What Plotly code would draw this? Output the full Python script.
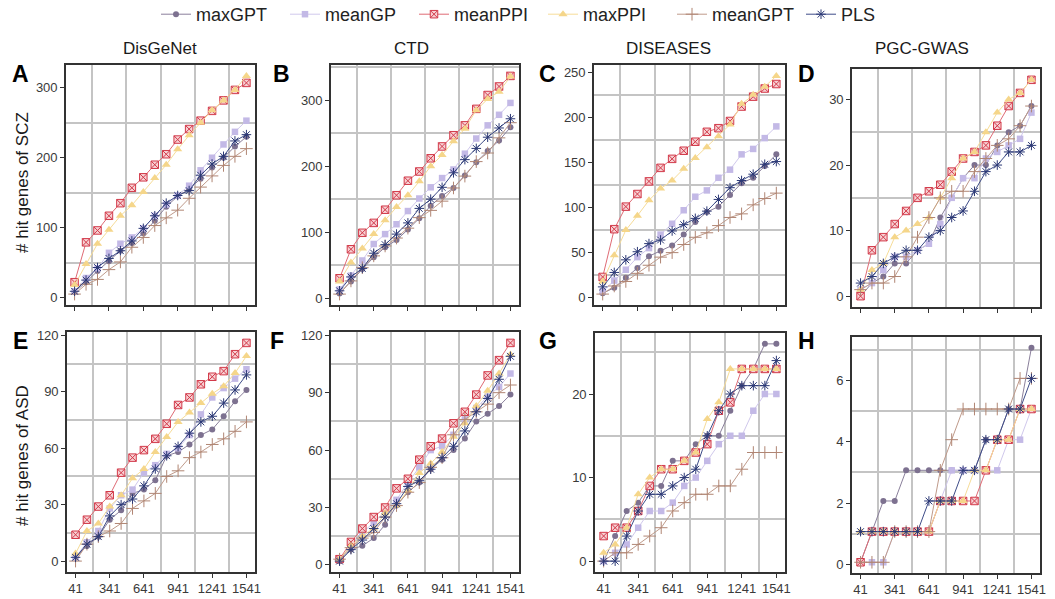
import plotly.graph_objects as go

# ---------------- data ----------------
X_POS = [41, 141, 241, 341, 441, 541, 641, 741, 841, 941, 1041, 1141, 1241, 1341, 1441, 1541]
X_TICKS = [41, 341, 641, 941, 1241, 1541]
METHODS = ["maxGPT", "meanGP", "meanPPI", "maxPPI", "meanGPT", "PLS"]
COLUMN_TITLES = ["DisGeNet", "CTD", "DISEASES", "PGC-GWAS"]
ROW_TITLES = ["# hit genes of SCZ", "# hit genes of ASD"]
PANEL_LETTERS = ["A", "B", "C", "D", "E", "F", "G", "H"]
Y_DTICK = [100, 100, 50, 10, 30, 30, 10, 2]

# A: SCZ / DisGeNet
A_maxGPT = [8, 22, 38, 52, 67, 78, 92, 110, 130, 145, 155, 170, 186, 200, 216, 230]
A_meanGP = [9, 28, 42, 64, 77, 86, 99, 117, 133, 146, 160, 182, 200, 219, 237, 253]
A_meanPPI = [22, 79, 96, 117, 135, 157, 172, 190, 205, 226, 241, 253, 267, 282, 297, 307]
A_maxPPI = [18, 48, 77, 97, 117, 132, 151, 171, 190, 212, 232, 250, 268, 282, 297, 317]
A_meanGPT = [5, 19, 26, 40, 51, 72, 86, 103, 114, 125, 142, 158, 174, 189, 202, 213]
A_PLS = [9, 25, 43, 56, 67, 81, 99, 117, 135, 146, 153, 175, 191, 202, 224, 233]

# B: SCZ / CTD
B_maxGPT = [7, 25, 44, 62, 77, 88, 104, 121, 140, 155, 167, 186, 206, 223, 239, 259]
B_meanGP = [13, 34, 57, 82, 97, 112, 132, 151, 168, 182, 195, 219, 242, 262, 278, 296]
B_meanPPI = [30, 74, 99, 114, 134, 156, 178, 192, 212, 230, 247, 262, 287, 308, 321, 337]
B_maxPPI = [25, 54, 75, 97, 118, 138, 156, 177, 200, 217, 238, 257, 285, 302, 313, 336]
B_meanGPT = [6, 26, 46, 64, 79, 91, 106, 122, 133, 147, 167, 185, 207, 220, 243, 266]
B_PLS = [11, 32, 45, 68, 81, 97, 114, 136, 150, 168, 190, 210, 227, 244, 258, 272]

# C: SCZ / DISEASES
C_maxGPT = [5, 11, 22, 33, 46, 52, 58, 70, 84, 95, 101, 114, 127, 133, 146, 159]
C_meanGP = [7, 19, 31, 45, 55, 70, 82, 97, 112, 119, 133, 142, 159, 165, 177, 190]
C_meanPPI = [23, 76, 101, 115, 129, 144, 154, 163, 173, 184, 188, 196, 212, 223, 232, 237]
C_maxPPI = [18, 47, 75, 91, 108, 121, 130, 143, 155, 167, 179, 192, 215, 225, 234, 246]
C_meanGPT = [4, 13, 18, 27, 36, 45, 50, 59, 67, 72, 80, 89, 93, 103, 110, 116]
C_PLS = [12, 28, 42, 51, 60, 64, 74, 81, 88, 96, 109, 122, 130, 137, 148, 151]

# D: SCZ / PGC-GWAS
D_maxGPT = [0, 2, 3, 5, 5, 7, 8, 12, 15, 18, 20, 20, 23, 25, 26, 29]
D_meanGP = [1, 2, 4, 6, 6, 7, 8, 11, 15, 18, 18, 21, 22, 23, 24, 28]
D_meanPPI = [0, 7, 9, 11, 13, 15, 16, 17, 19, 21, 22, 23, 26, 29, 31, 33]
D_maxPPI = [1, 4, 5, 9, 10, 11, 12, 15, 18, 21, 22, 25, 28, 30, 31, 33]
D_meanGPT = [1, 2, 2, 3, 6, 9, 12, 15, 16, 16, 19, 21, 23, 24, 26, 29]
D_PLS = [2, 3, 5, 6, 7, 7, 9, 10, 12, 13, 16, 19, 20, 22, 22, 23]

# E: ASD / DisGeNet
E_maxGPT = [2, 8, 13, 22, 27, 36, 38, 43, 56, 58, 62, 67, 70, 77, 85, 91]
E_meanGP = [2, 10, 16, 28, 35, 38, 47, 51, 57, 60, 67, 78, 87, 92, 97, 102]
E_meanPPI = [14, 22, 29, 35, 47, 55, 59, 65, 73, 83, 87, 94, 98, 101, 110, 116]
E_maxPPI = [4, 16, 20, 29, 35, 44, 49, 58, 66, 74, 79, 84, 89, 93, 100, 109]
E_meanGPT = [0, 9, 13, 16, 20, 28, 32, 36, 45, 48, 55, 58, 62, 65, 69, 74]
E_PLS = [2, 9, 13, 24, 30, 33, 40, 49, 56, 61, 68, 74, 77, 84, 91, 99]

# F: ASD / CTD
F_maxGPT = [2, 8, 10, 14, 21, 31, 38, 43, 50, 55, 60, 66, 75, 79, 83, 89]
F_meanGP = [3, 10, 17, 22, 28, 34, 43, 51, 60, 62, 68, 76, 82, 88, 93, 100]
F_meanPPI = [3, 12, 19, 25, 30, 40, 45, 55, 62, 66, 74, 80, 89, 99, 107, 116]
F_maxPPI = [3, 10, 15, 19, 27, 31, 39, 48, 53, 59, 67, 74, 83, 91, 100, 110]
F_meanGPT = [3, 9, 14, 17, 25, 31, 38, 43, 51, 56, 68, 76, 80, 84, 90, 94]
F_PLS = [2, 8, 13, 19, 25, 32, 41, 44, 50, 56, 62, 70, 80, 87, 97, 109]

# G: ASD / DISEASES
G_maxGPT = [0, 3, 6, 7, 9, 9, 12, 12, 14, 15, 15, 18, 21, 23, 26, 26]
G_meanGP = [0, 1, 2, 4, 6, 6, 7, 9, 10, 12, 14, 15, 15, 18, 20, 20]
G_meanPPI = [3, 4, 4, 6, 9, 11, 11, 12, 13, 14, 18, 19, 23, 23, 23, 23]
G_maxPPI = [1, 2, 4, 8, 10, 11, 11, 12, 13, 17, 19, 23, 23, 23, 23, 23]
G_meanGPT = [0, 1, 1, 2, 3, 4, 6, 7, 8, 8, 9, 9, 11, 13, 13, 13]
G_PLS = [0, 0, 3, 6, 8, 8, 9, 10, 11, 15, 18, 20, 21, 21, 21, 24]

# H: ASD / PGC-GWAS (values as plotted, slightly jittered)
H_maxGPT = [0.07, 1.07, 2.07, 2.07, 3.07, 3.07, 3.07, 3.07, 3.07, 3.07, 3.07, 4.07, 4.07, 5.07, 5.07, 7.07]
H_meanGP = [0.07, 0.07, 0.07, 1.07, 1.07, 1.07, 1.07, 2.07, 3.07, 3.07, 3.07, 3.07, 3.07, 4.07, 4.07, 5.07]
H_meanPPI = [0.07, 1.07, 1.07, 1.07, 1.07, 1.07, 1.07, 2.07, 2.07, 2.07, 2.07, 3.07, 4.07, 4.07, 5.07, 5.07]
H_maxPPI = [1.07, 1.07, 1.07, 1.07, 1.07, 1.07, 1.07, 2.07, 2.07, 2.07, 3.07, 3.07, 4.07, 4.07, 5.07, 5.07]
H_meanGPT = [0.07, 0.07, 0.07, 1.07, 1.07, 1.07, 1.07, 3.07, 4.07, 5.07, 5.07, 5.07, 5.07, 5.07, 6.07, 6.07]
H_PLS = [1.07, 1.07, 1.07, 1.07, 1.07, 1.07, 2.07, 2.07, 2.07, 3.07, 3.07, 4.07, 4.07, 5.07, 5.07, 6.07]

PANELS = [
    [A_maxGPT, A_meanGP, A_meanPPI, A_maxPPI, A_meanGPT, A_PLS],
    [B_maxGPT, B_meanGP, B_meanPPI, B_maxPPI, B_meanGPT, B_PLS],
    [C_maxGPT, C_meanGP, C_meanPPI, C_maxPPI, C_meanGPT, C_PLS],
    [D_maxGPT, D_meanGP, D_meanPPI, D_maxPPI, D_meanGPT, D_PLS],
    [E_maxGPT, E_meanGP, E_meanPPI, E_maxPPI, E_meanGPT, E_PLS],
    [F_maxGPT, F_meanGP, F_meanPPI, F_maxPPI, F_meanGPT, F_PLS],
    [G_maxGPT, G_meanGP, G_meanPPI, G_maxPPI, G_meanGPT, G_PLS],
    [H_maxGPT, H_meanGP, H_meanPPI, H_maxPPI, H_meanGPT, H_PLS],
]

# ---------------- styling ----------------
W, H = 1055, 599
FONT = "Arial, Liberation Sans, sans-serif"
GRID = "#c4c4c4"

STYLES = {
    "maxGPT": dict(line="#8a7f9b", marker=dict(symbol="circle", size=6, color="#7d7190",
                                                line=dict(width=0))),
    "meanGP": dict(line="#d0c8ec", marker=dict(symbol="square", size=6.5, color="#c3b9e6",
                                                line=dict(width=0))),
    "meanPPI": dict(line="#df6b75", marker=dict(symbol="square-x", size=7.5, color="#f7d0d3",
                                                 line=dict(color="#d23a4a", width=1))),
    "maxPPI": dict(line="#f6dc98", marker=dict(symbol="triangle-up", size=8, color="#f5d68a",
                                                line=dict(width=0))),
    "meanGPT": dict(line="#bf9a8a", marker=dict(symbol="cross-thin-open", size=9, color="#b08573",
                                                 line=dict(color="#b08573", width=1.0))),
    "PLS": dict(line="#3e4c88", marker=dict(symbol="asterisk-open", size=8, color="#2b3875",
                                             line=dict(color="#2b3875", width=1.0))),
}

# panel boxes in pixels: (left, top, right, bottom)
BOXES = [
    (66, 65, 255, 305), (331, 65, 519, 305), (594, 65, 785, 305), (852, 69, 1040, 307),
    (67, 332, 255, 572), (331, 332, 519, 572), (595, 333, 785, 572), (852, 337, 1040, 573),
]

fig = go.Figure()
layout = dict(
    template="none",
    width=W, height=H,
    margin=dict(l=0, r=0, t=0, b=0, autoexpand=False),
    paper_bgcolor="white", plot_bgcolor="white",
    font=dict(family=FONT, color="#222222"),
    showlegend=True,
    legend=dict(orientation="h", x=156 / W, xanchor="left", y=1.0 + 4 / H, yanchor="top",
                font=dict(size=18, color="#222222"), itemwidth=30,
                entrywidth=84, entrywidthmode="pixels",
                tracegroupgap=0, bgcolor="rgba(0,0,0,0)", borderwidth=0),
)

xr = (min(X_POS), max(X_POS))
xpad = 0.05 * (xr[1] - xr[0])
x_grid = [(a + b) / 2 for a, b in zip(X_TICKS[:-1], X_TICKS[1:])]

for i, series in enumerate(PANELS):
    ax = "" if i == 0 else str(i + 1)
    for m, vals in zip(METHODS, series):
        st = STYLES[m]
        fig.add_trace(go.Scatter(
            x=X_POS, y=vals, mode="lines+markers", name=m,
            legendgroup=m, showlegend=(i == 0),
            line=dict(color=st["line"], width=1.0),
            marker=st["marker"],
            xaxis="x" + ax, yaxis="y" + ax,
        ))
    allv = [v for s in series for v in s]
    lo, hi = min(allv), max(allv)
    ypad = 0.05 * (hi - lo)
    d = Y_DTICK[i]
    y_grid = [d / 2 + k * d for k in range(int((hi + ypad) // d) + 1)]
    l, t, r, b = BOXES[i]
    bottom_row = i >= 4
    common = dict(
        showline=True, linecolor="#333333", linewidth=1.6, mirror=True,
        ticks="outside", ticklen=4, tickwidth=1.1, tickcolor="#333333",
        tickfont=dict(size=13, color="#3a3a3a", family=FONT),
        showgrid=False, zeroline=False, automargin=False,
    )
    layout["xaxis" + ax] = dict(
        common,
        domain=[l / W, r / W],
        anchor="y" + ax,
        range=[xr[0] - xpad, xr[1] + xpad],
        tickmode="array", tickvals=X_TICKS,
        showticklabels=bottom_row,
        minor=dict(tickmode="array", tickvals=x_grid, showgrid=True,
                   gridcolor=GRID, gridwidth=1.6, ticks=""),
    )
    layout["yaxis" + ax] = dict(
        common,
        domain=[(H - b) / H, (H - t) / H],
        anchor="x" + ax,
        range=[lo - ypad, hi + ypad],
        tickmode="linear", tick0=0, dtick=d,
        minor=dict(tickmode="array", tickvals=y_grid, showgrid=True,
                   gridcolor=GRID, gridwidth=1.6, ticks=""),
    )

annotations = []
# column titles
for cx, txt in zip([160, 411, 668, 922], COLUMN_TITLES):
    annotations.append(dict(x=cx / W, y=1 - 48 / H, xref="paper", yref="paper", text=txt,
                            showarrow=False, font=dict(size=17, color="#1a1a1a"),
                            xanchor="center", yanchor="middle"))
# row titles
for cy, txt in zip([183, 456], ROW_TITLES):
    annotations.append(dict(x=22 / W, y=1 - cy / H, xref="paper", yref="paper", text=txt,
                            textangle=-90, showarrow=False, font=dict(size=17, color="#1a1a1a"),
                            xanchor="center", yanchor="middle"))
# panel letters
LETTER_POS = [(20, 74), (281, 74), (547, 74), (806, 74), (20, 341), (277, 341), (548, 341), (806, 341)]
for (px, py), txt in zip(LETTER_POS, PANEL_LETTERS):
    annotations.append(dict(x=px / W, y=1 - py / H, xref="paper", yref="paper",
                            text="<b>" + txt + "</b>", showarrow=False,
                            font=dict(size=23, color="#000000"),
                            xanchor="center", yanchor="middle"))
layout["annotations"] = annotations

fig.update_layout(**layout)
fig.write_html(
    "out.html",
    config={"displayModeBar": False},
    post_script="document.body.style.margin='0px';document.body.style.padding='0px';",
)
